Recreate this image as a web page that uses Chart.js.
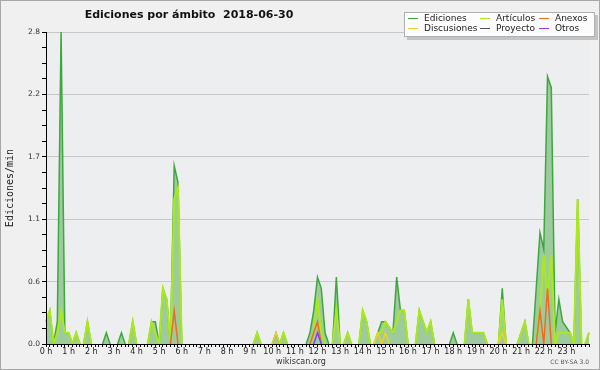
<!DOCTYPE html>
<html>
<head>
<meta charset="utf-8">
<script src="https://cdn.jsdelivr.net/npm/chart.js@4/dist/chart.umd.min.js"></script>
<style>
html, body { margin: 0; padding: 0; background: #f0f0f0; }
canvas { display: block; }
</style>
</head>
<body>
<canvas id="chart" width="600" height="370"></canvas>
<script>
// ediciones por minuto, un valor cada 10 minutos (0 h .. 24 h)
const hourTicks = ['0 h', '1 h', '2 h', '3 h', '4 h', '5 h', '6 h', '7 h', '8 h', '9 h', '10 h', '11 h',
    '12 h', '13 h', '14 h', '15 h', '16 h', '17 h', '18 h', '19 h', '20 h', '21 h', '22 h', '23 h'];
const yTickLabels = ['0.0', '0.6', '1.1', '1.7', '2.2', '2.8'];
const seriesNames = ['Ediciones', 'Artículos', 'Anexos', 'Discusiones', 'Proyecto', 'Otros'];

const ediciones = [
    0.2, 0.3, 0, 0.2, 2.8, 0.1, 0.1, 0, 0.1, 0, 0, 0.2,
    0, 0, 0, 0, 0.1, 0, 0, 0, 0.1, 0, 0, 0.2,
    0, 0, 0, 0, 0.2, 0.2, 0, 0.5, 0.4, 0, 1.6, 1.45,
    0, 0, 0, 0, 0, 0, 0, 0, 0, 0, 0, 0,
    0, 0, 0, 0, 0, 0, 0, 0, 0.1, 0, 0, 0,
    0, 0.1, 0, 0.1, 0, 0, 0, 0, 0, 0, 0.1, 0.3,
    0.6, 0.5, 0.1, 0, 0, 0.6, 0, 0, 0.1, 0, 0, 0,
    0.3, 0.2, 0, 0, 0.1, 0.2, 0.2, 0.15, 0.1, 0.6, 0.3, 0.3,
    0, 0, 0, 0.3, 0.2, 0.1, 0.2, 0, 0, 0, 0, 0,
    0.1, 0, 0, 0, 0.4, 0.1, 0.1, 0.1, 0.1, 0, 0, 0,
    0, 0.5, 0, 0, 0, 0, 0.1, 0.2, 0, 0, 0.5, 1.0,
    0.85, 2.4, 2.3, 0.1, 0.4, 0.2, 0.15, 0.1, 0, 1.3, 0, 0,
    0.1
];
const articulos = [
    0.2, 0.3, 0, 0.1, 0.3, 0.1, 0.1, 0, 0.1, 0, 0, 0.2,
    0, 0, 0, 0, 0, 0, 0, 0, 0, 0, 0, 0.2,
    0, 0, 0, 0, 0.2, 0.1, 0, 0.5, 0.4, 0, 1.3, 1.4,
    0, 0, 0, 0, 0, 0, 0, 0, 0, 0, 0, 0,
    0, 0, 0, 0, 0, 0, 0, 0, 0.1, 0, 0, 0,
    0, 0, 0, 0.1, 0, 0, 0, 0, 0, 0, 0, 0.1,
    0.4, 0.1, 0, 0, 0, 0.3, 0, 0, 0.1, 0, 0, 0,
    0.3, 0.2, 0, 0, 0.1, 0.1, 0.2, 0.15, 0.1, 0.2, 0.3, 0.3,
    0, 0, 0, 0.3, 0.2, 0.1, 0.2, 0, 0, 0, 0, 0,
    0, 0, 0, 0, 0.4, 0.1, 0.1, 0.1, 0.1, 0, 0, 0,
    0, 0.4, 0, 0, 0, 0, 0.1, 0.2, 0, 0, 0, 0.3,
    0.8, 0.4, 0.8, 0, 0.1, 0.1, 0.1, 0.1, 0, 1.3, 0, 0,
    0.1
];
const anexos = [
    0, 0, 0, 0, 0, 0, 0, 0, 0, 0, 0, 0,
    0, 0, 0, 0, 0, 0, 0, 0, 0, 0, 0, 0,
    0, 0, 0, 0, 0, 0, 0, 0, 0, 0, 0.3, 0,
    0, 0, 0, 0, 0, 0, 0, 0, 0, 0, 0, 0,
    0, 0, 0, 0, 0, 0, 0, 0, 0, 0, 0, 0,
    0, 0, 0, 0, 0, 0, 0, 0, 0, 0, 0, 0.1,
    0.2, 0, 0, 0, 0, 0, 0, 0, 0, 0, 0, 0,
    0, 0, 0, 0, 0, 0, 0, 0, 0, 0, 0, 0,
    0, 0, 0, 0, 0, 0, 0, 0, 0, 0, 0, 0,
    0, 0, 0, 0, 0, 0, 0, 0, 0, 0, 0, 0,
    0, 0, 0, 0, 0, 0, 0, 0, 0, 0, 0, 0.3,
    0, 0.5, 0, 0, 0, 0, 0, 0, 0, 0, 0, 0,
    0
];
const discusiones = [
    0, 0, 0, 0, 0, 0, 0, 0, 0, 0, 0, 0,
    0, 0, 0, 0, 0, 0, 0, 0, 0, 0, 0, 0,
    0, 0, 0, 0, 0, 0, 0, 0, 0, 0, 0, 0,
    0, 0, 0, 0, 0, 0, 0, 0, 0, 0, 0, 0,
    0, 0, 0, 0, 0, 0, 0, 0, 0, 0, 0, 0,
    0, 0.1, 0, 0, 0, 0, 0, 0, 0, 0, 0, 0,
    0, 0, 0, 0, 0, 0, 0, 0, 0, 0, 0, 0,
    0, 0, 0, 0, 0.1, 0, 0.1, 0, 0, 0, 0, 0,
    0, 0, 0, 0, 0, 0, 0, 0, 0, 0, 0, 0,
    0, 0, 0, 0, 0, 0, 0, 0, 0, 0, 0, 0,
    0, 0.1, 0, 0, 0, 0, 0, 0, 0, 0, 0, 0,
    0, 0, 0, 0, 0, 0, 0, 0, 0, 0, 0, 0,
    0
];
const proyecto = [
    0, 0, 0, 0, 0, 0, 0, 0, 0, 0, 0, 0,
    0, 0, 0, 0, 0, 0, 0, 0, 0, 0, 0, 0,
    0, 0, 0, 0, 0, 0, 0, 0, 0, 0, 0, 0,
    0, 0, 0, 0, 0, 0, 0, 0, 0, 0, 0, 0,
    0, 0, 0, 0, 0, 0, 0, 0, 0, 0, 0, 0,
    0, 0, 0, 0, 0, 0, 0, 0, 0, 0, 0, 0,
    0, 0, 0, 0, 0, 0, 0, 0, 0, 0, 0, 0,
    0, 0, 0, 0, 0, 0, 0, 0, 0, 0, 0, 0,
    0, 0, 0, 0, 0, 0, 0, 0, 0, 0, 0, 0,
    0, 0, 0, 0, 0, 0, 0, 0, 0, 0, 0, 0,
    0, 0, 0, 0, 0, 0, 0, 0, 0, 0, 0, 0,
    0, 0, 0, 0, 0, 0, 0, 0, 0, 0, 0, 0,
    0
];
const otros = [
    0, 0, 0, 0, 0, 0, 0, 0, 0, 0, 0, 0,
    0, 0, 0, 0, 0, 0, 0, 0, 0, 0, 0, 0,
    0, 0, 0, 0, 0, 0, 0, 0, 0, 0, 0, 0,
    0, 0, 0, 0, 0, 0, 0, 0, 0, 0, 0, 0,
    0, 0, 0, 0, 0, 0, 0, 0, 0, 0, 0, 0,
    0, 0, 0, 0, 0, 0, 0, 0, 0, 0, 0, 0,
    0.1, 0, 0, 0, 0, 0, 0, 0, 0, 0, 0, 0,
    0, 0, 0, 0, 0, 0, 0, 0, 0, 0, 0, 0,
    0, 0, 0, 0, 0, 0, 0, 0, 0, 0, 0, 0,
    0, 0, 0, 0, 0, 0, 0, 0, 0, 0, 0, 0,
    0, 0, 0, 0, 0, 0, 0, 0, 0, 0, 0, 0,
    0, 0, 0, 0, 0, 0, 0, 0, 0, 0, 0, 0,
    0
];

// 6 pasos de 10 min por hora, etiqueta solo en la hora
const labels = [];
for (let i = 0; i < ediciones.length; i++) {
    labels.push(i % 6 === 0 && i / 6 < hourTicks.length ? hourTicks[i / 6] : '');
}

// no dibujar las lineas que van por el cero
const hideZero = {
    borderColor: c => (c.p0.parsed.y === 0 && c.p1.parsed.y === 0) ? 'transparent' : undefined
};

function serie(i, data, color, width, order) {
    return {
        label: seriesNames[i],
        data: data,
        borderColor: color,
        borderWidth: width,
        pointRadius: 0,
        tension: 0,
        fill: false,
        order: order,
        segment: hideZero
    };
}

const datasets = [
    serie(0, ediciones, '#3da83d', 1.5, 6),
    serie(1, articulos, '#abe81c', 2, 5),
    serie(2, anexos, '#f26a1e', 1.5, 3),
    serie(3, discusiones, '#f2cf26', 1.5, 4),
    serie(4, proyecto, '#555555', 1.5, 2),
    serie(5, otros, '#8a3cf0', 1.5, 1)
];
datasets[0].fill = 'origin';
datasets[0].backgroundColor = '#9ecb9e';

const decor = {
    id: 'decor',
    beforeDraw(chart) {
        const ctx = chart.ctx;
        const a = chart.chartArea;
        ctx.save();
        ctx.fillStyle = '#f0f0f0';
        ctx.fillRect(0, 0, chart.width, chart.height);
        ctx.strokeStyle = '#a8a8a8';
        ctx.lineWidth = 1;
        ctx.strokeRect(0.5, 0.5, chart.width - 1, chart.height - 1);
        ctx.fillStyle = '#eceef0';
        ctx.fillRect(a.left, a.top, a.right - a.left, a.bottom - a.top);
        ctx.restore();
    },
    afterDraw(chart) {
        const ctx = chart.ctx;
        ctx.save();
        // titulo
        ctx.fillStyle = '#111';
        ctx.font = 'bold 11px "DejaVu Sans"';
        ctx.textAlign = 'center';
        ctx.textBaseline = 'alphabetic';
        ctx.fillText('Ediciones por ámbito  2018-06-30', 189, 18);
        // pie
        ctx.fillStyle = '#333';
        ctx.font = '8px "DejaVu Sans"';
        ctx.fillText('wikiscan.org', 301, 364);
        ctx.fillStyle = '#555';
        ctx.font = '6px "DejaVu Sans"';
        ctx.textAlign = 'right';
        ctx.fillText('CC BY-SA 3.0', 589, 364);
        // leyenda
        ctx.fillStyle = '#c4c4c4';
        ctx.fillRect(407, 15, 191, 25);
        ctx.fillStyle = '#fcfcfc';
        ctx.fillRect(404, 12, 191, 25);
        ctx.strokeStyle = '#b0b0b0';
        ctx.strokeRect(404.5, 12.5, 190, 24);
        const cols = [408, 480, 539];
        const rows = [18.5, 28.5];
        ctx.font = '9px "DejaVu Sans"';
        ctx.textAlign = 'left';
        ctx.textBaseline = 'middle';
        chart.data.datasets.forEach((ds, i) => {
            const x = cols[i % 3];
            const y = rows[Math.floor(i / 3)];
            ctx.strokeStyle = ds.borderColor;
            ctx.lineWidth = 1;
            ctx.beginPath();
            ctx.moveTo(x, y);
            ctx.lineTo(x + 10, y);
            ctx.stroke();
            ctx.fillStyle = '#222';
            ctx.fillText(ds.label, x + 16, y + 0.5);
        });
        ctx.restore();
    }
};

Chart.defaults.font.family = '"DejaVu Sans", sans-serif';

new Chart(document.getElementById('chart'), {
    type: 'line',
    data: {
        labels: labels,
        datasets: datasets
    },
    options: {
        responsive: false,
        animation: false,
        devicePixelRatio: 1,
        layout: { padding: { top: 32, right: 11, left: 0, bottom: 0 } },
        plugins: {
            legend: { display: false },
            title: { display: false },
            tooltip: { enabled: false }
        },
        scales: {
            x: {
                type: 'category',
                offset: false,
                afterFit(s) { s.height = 26; },
                ticks: {
                    autoSkip: false,
                    maxRotation: 0,
                    minRotation: 0,
                    padding: 0,
                    color: '#222',
                    font: { size: 8 }
                },
                grid: { drawOnChartArea: false, tickLength: 3, tickColor: '#000' },
                border: { color: '#000', z: 1 }
            },
            y: {
                min: 0,
                max: 2.8,
                afterFit(s) { s.width = 46; },
                ticks: {
                    stepSize: 0.14,
                    autoSkip: false,
                    padding: 2,
                    color: '#333',
                    font: { size: 7.5 },
                    callback: (v, i) => i % 4 === 0 ? yTickLabels[i / 4] : ''
                },
                grid: {
                    color: c => (c.index % 4 === 0 && c.index > 0) ? '#c8c8c8' : 'transparent',
                    tickColor: '#000',
                    tickLength: 4
                },
                border: { color: '#000', z: 1 },
                title: {
                    display: true,
                    text: 'Ediciones/min',
                    color: '#222',
                    font: { family: '"DejaVu Sans Mono", monospace', size: 10 },
                    padding: { top: 4, bottom: 0 }
                }
            }
        }
    },
    plugins: [decor]
});
</script>
</body>
</html>
